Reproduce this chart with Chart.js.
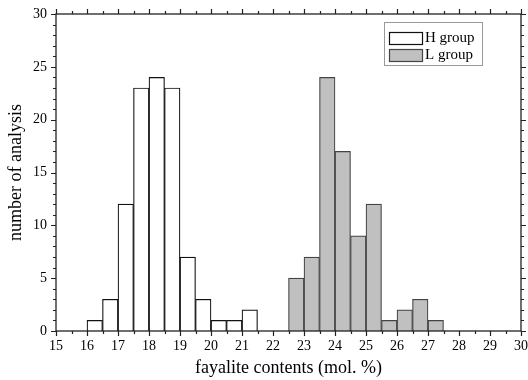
<!DOCTYPE html>
<html>
<head>
<meta charset="utf-8">
<script src="https://cdn.jsdelivr.net/npm/chart.js@4.4.0/dist/chart.umd.min.js"></script>
<style>
  html, body { margin: 0; padding: 0; background: #fff; }
  #wrap { width: 528px; height: 380px; }
</style>
</head>
<body>
<div id="wrap"><canvas id="hist"></canvas></div>
<script>
// bin start (mol. %), bin width 0.5
var hBins = [16, 16.5, 17, 17.5, 18, 18.5, 19, 19.5, 20, 20.5, 21];
var hCounts = [1, 3, 12, 23, 24, 23, 7, 3, 1, 1, 2];
var lBins = [22.5, 23, 23.5, 24, 24.5, 25, 25.5, 26, 26.5, 27];
var lCounts = [5, 7, 24, 17, 9, 12, 1, 2, 3, 1];
var binWidth = 0.5;

var xMin = 15, xMax = 30;
var yMin = 0, yMax = 30;

var serif = '"Liberation Serif", "DejaVu Serif", serif';

function toPoints(bins, counts) {
  return bins.map(function (b, i) {
    return { x: b + binWidth / 2, y: counts[i] };
  });
}

// frame, outward ticks and the boxed legend
var framePlugin = {
  id: 'frame',
  afterDraw: function (chart) {
    var ctx = chart.ctx;
    var a = chart.chartArea;
    var xs = chart.scales.x, ys = chart.scales.y;
    ctx.save();
    ctx.strokeStyle = '#222';
    ctx.lineWidth = 1.3;
    ctx.strokeRect(a.left, a.top, a.right - a.left, a.bottom - a.top);

    ctx.lineWidth = 1.2;
    ctx.beginPath();
    for (var v = xMin; v <= xMax + 1e-9; v += 0.5) {
      var px = Math.round(xs.getPixelForValue(v)) + 0.5;
      var len = (Math.abs(v - Math.round(v)) < 1e-9) ? 5 : 3;
      ctx.moveTo(px, a.bottom); ctx.lineTo(px, a.bottom + len);
      ctx.moveTo(px, a.top); ctx.lineTo(px, a.top - len);
    }
    for (var w = yMin; w <= yMax; w += 1) {
      var py = Math.round(ys.getPixelForValue(w)) + 0.5;
      var l2 = (w % 5 === 0) ? 5 : 3;
      ctx.moveTo(a.left, py); ctx.lineTo(a.left - l2, py);
      ctx.moveTo(a.right, py); ctx.lineTo(a.right + l2, py);
    }
    ctx.stroke();

    // legend
    var bx = a.right - 137, by = a.top + 8, bw = 98, bh = 43;
    ctx.strokeStyle = '#999';
    ctx.lineWidth = 1;
    ctx.strokeRect(bx + 0.5, by + 0.5, bw, bh);
    ctx.font = '15px ' + serif;
    ctx.textBaseline = 'middle';
    chart.data.datasets.forEach(function (ds, i) {
      var sy = by + 10 + i * 17;
      ctx.fillStyle = ds.backgroundColor;
      ctx.fillRect(bx + 5, sy, 33, 12);
      ctx.strokeStyle = ds.borderColor;
      ctx.lineWidth = 1.2;
      ctx.strokeRect(bx + 5.5, sy + 0.5, 33, 12);
      ctx.fillStyle = '#000';
      ctx.fillText(ds.label, bx + 41, sy + 6);
    });
    ctx.restore();
  }
};

new Chart(document.getElementById('hist'), {
  type: 'bar',
  data: {
    datasets: [{
      label: 'H group',
      data: toPoints(hBins, hCounts),
      backgroundColor: '#ffffff',
      borderColor: '#111111',
      borderWidth: 1.2
    }, {
      label: 'L group',
      data: toPoints(lBins, lCounts),
      backgroundColor: '#c0c0c0',
      borderColor: '#444444',
      borderWidth: 1.2
    }]
  },
  options: {
    responsive: true,
    maintainAspectRatio: false,
    animation: false,
    grouped: false,
    barPercentage: 1,
    categoryPercentage: 1,
    layout: { padding: { left: 0, right: 7, top: 14, bottom: 0 } },
    plugins: {
      legend: { display: false },
      tooltip: { enabled: false }
    },
    scales: {
      x: {
        type: 'linear',
        min: xMin,
        max: xMax,
        offset: false,
        grid: { display: false, drawTicks: false },
        border: { display: false },
        ticks: {
          stepSize: 1,
          padding: 7,
          color: '#000',
          font: { family: serif, size: 14 }
        },
        title: {
          display: true,
          text: 'fayalite contents (mol. %)',
          color: '#000',
          font: { family: serif, size: 18 },
          padding: { top: 0, bottom: 1 }
        },
        afterFit: function (s) {
          s.height = 49;
          s.paddingLeft = 0;
          s.paddingRight = 0;
        }
      },
      y: {
        min: yMin,
        max: yMax,
        grid: { display: false, drawTicks: false },
        border: { display: false },
        ticks: {
          stepSize: 5,
          padding: 9,
          color: '#000',
          font: { family: serif, size: 14 }
        },
        title: {
          display: true,
          text: 'number of analysis',
          color: '#000',
          font: { family: serif, size: 18 },
          padding: { top: 5, bottom: 0 }
        },
        afterFit: function (s) {
          s.width = 56;
          s.paddingTop = 0;
          s.paddingBottom = 0;
        }
      }
    }
  },
  plugins: [framePlugin]
});
</script>
</body>
</html>
